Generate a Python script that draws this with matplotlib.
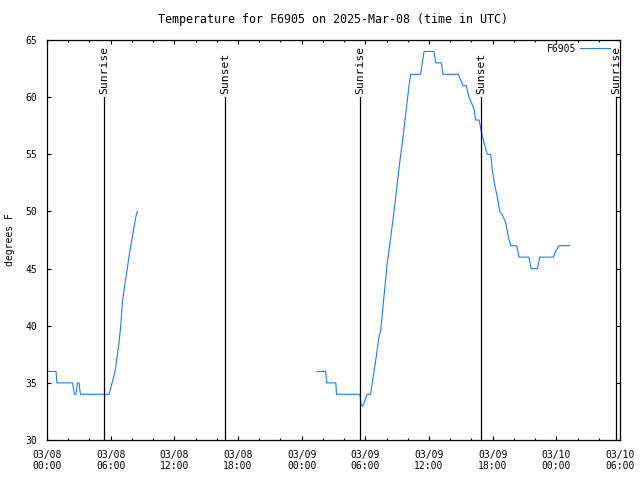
"""Temperature trace for station F6905, gnuplot-style."""

from datetime import datetime

import matplotlib
matplotlib.use("Agg")
import matplotlib.dates as mdates
import matplotlib.pyplot as plt

plt.rcParams["font.family"] = ["DejaVu Sans Mono"]
plt.rcParams["font.size"] = 7

# values (UTC)
seg1_times = ["03-08 00:06", "03-08 00:51", "03-08 00:56", "03-08 02:24", "03-08 02:35",
              "03-08 02:44", "03-08 02:52", "03-08 03:01", "03-08 03:09", "03-08 05:51",
              "03-08 06:08", "03-08 06:25", "03-08 06:34", "03-08 06:47", "03-08 06:57",
              "03-08 07:06", "03-08 07:19", "03-08 07:34", "03-08 07:48", "03-08 08:05",
              "03-08 08:22", "03-08 08:31"]
seg1_temps = [36, 36, 35, 35, 34, 34, 35, 35, 34, 34,
              35, 36, 37, 38.5, 40, 42, 43.5, 45, 46.5, 48, 49.5, 50]

seg2_times = ["03-09 01:28", "03-09 02:16", "03-09 02:21", "03-09 03:13", "03-09 03:17",
              "03-09 05:30", "03-09 05:36", "03-09 05:47", "03-09 06:10", "03-09 06:30",
              "03-09 06:39", "03-09 06:59", "03-09 07:17", "03-09 07:27", "03-09 07:45",
              "03-09 08:04", "03-09 08:24", "03-09 08:42", "03-09 09:01", "03-09 09:20",
              "03-09 09:29", "03-09 09:48", "03-09 10:07", "03-09 10:16", "03-09 11:13",
              "03-09 11:22", "03-09 11:32", "03-09 12:28", "03-09 12:38", "03-09 13:10",
              "03-09 13:19", "03-09 14:46", "03-09 14:59", "03-09 15:13", "03-09 15:31",
              "03-09 15:46", "03-09 16:14", "03-09 16:24", "03-09 16:43", "03-09 16:56",
              "03-09 17:11", "03-09 17:30", "03-09 17:49", "03-09 17:58", "03-09 18:13",
              "03-09 18:26", "03-09 18:40", "03-09 18:55", "03-09 19:14", "03-09 19:28",
              "03-09 19:42", "03-09 20:16", "03-09 20:29", "03-09 21:25", "03-09 21:37",
              "03-09 22:13", "03-09 22:26", "03-09 23:43", "03-09 23:56", "03-10 00:15",
              "03-10 01:16"]
seg2_temps = [36, 36, 35, 35, 34, 34, 33, 33, 34, 34,
              35, 37, 39, 39.6, 42.5, 45.5, 47.8, 50, 52.5, 55,
              56, 58.5, 61, 62, 62, 63, 64, 64, 63, 63,
              62, 62, 61.5, 61, 61, 60, 59, 58, 58, 57,
              56, 55, 55, 53.6, 52.2, 51.3, 50, 49.7, 49, 47.8,
              47, 47, 46, 46, 45, 45, 46, 46, 46.5, 47,
              47]

sun_times = ["03-08 05:22", "03-08 16:47", "03-09 05:30", "03-09 16:54", "03-10 05:37"]
sun_labels = ["Sunrise", "Sunset", "Sunrise", "Sunset", "Sunrise"]


def _parse(stamps):
    return [datetime.strptime("2025-" + s, "%Y-%m-%d %H:%M") for s in stamps]


fig = plt.figure(figsize=(6.4, 4.8), dpi=100)
ax = fig.add_axes([47 / 640, 40 / 480, 573 / 640, 400 / 480])

line_color = "#1a7cff"
ax.plot(_parse(seg1_times), seg1_temps, color=line_color, lw=0.8, label="F6905")
ax.plot(_parse(seg2_times), seg2_temps, color=line_color, lw=0.8)

for t, lab in zip(_parse(sun_times), sun_labels):
    ax.plot([t, t], [30, 60], color="black", lw=0.9)
    ax.text(t, 60.3, lab, rotation=90, ha="center", va="bottom", fontsize=8.2)

ax.set_xlim(datetime(2025, 3, 8, 0, 0), datetime(2025, 3, 10, 6, 0))
ax.set_ylim(30, 65)
ax.set_yticks(range(30, 66, 5))
ax.xaxis.set_major_locator(mdates.HourLocator(byhour=[0, 6, 12, 18]))
ax.xaxis.set_minor_locator(mdates.HourLocator(byhour=range(0, 24, 2)))
ax.xaxis.set_major_formatter(mdates.DateFormatter("%m/%d\n%H:%M"))

ax.tick_params(which="both", direction="in", top=True, right=True, width=0.8)
ax.tick_params(which="major", length=3.2)
ax.tick_params(which="minor", length=1.7)
ax.tick_params(axis="x", pad=7)
ax.tick_params(axis="y", pad=7)
for spine in ax.spines.values():
    spine.set_linewidth(0.9)

ax.set_ylabel("degrees F", va="center")
ax.yaxis.set_label_coords(-37 / 573, 0.5)
ax.set_title("Temperature for F6905 on 2025-Mar-08 (time in UTC)", pad=12)
ax.legend(loc="upper right", frameon=False, markerfirst=False, handlelength=3.1,
          handletextpad=0.4, borderaxespad=0.0, bbox_to_anchor=(0.99, 1.0))

fig.savefig("out.png", dpi=100)
